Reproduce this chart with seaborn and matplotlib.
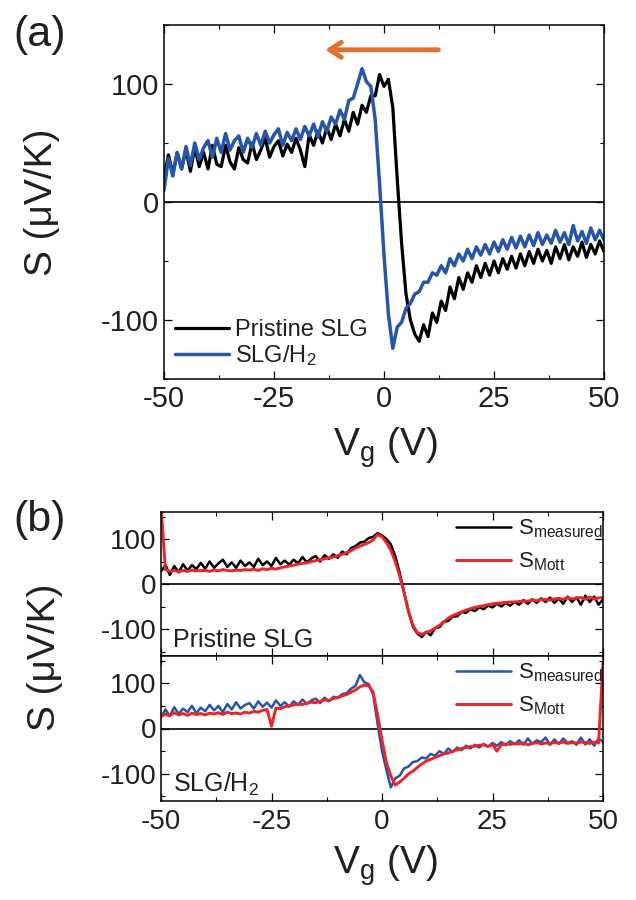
import numpy as np
import matplotlib
matplotlib.use("Agg")
import matplotlib.pyplot as plt
import seaborn as sns
from matplotlib.ticker import MultipleLocator

# gate voltage grid (V), 1 V steps
vg = np.arange(-50, 51)

# (a) thermopower, measured
s_pristine = [20, 40, 24, 42, 28, 44, 26, 46, 30, 42,
              28, 48, 32, 30, 48, 34, 28, 46, 36, 33,
              50, 36, 44, 54, 38, 47, 52, 39, 49, 42,
              54, 44, 30, 57, 48, 60, 50, 63, 53, 66,
              56, 70, 60, 76, 66, 82, 76, 90, 90, 108,
              98, 104, 80, 20, -35, -78, -100, -112, -118, -104,
              -114, -94, -102, -84, -92, -72, -82, -64, -74, -60,
              -68, -54, -64, -52, -62, -50, -60, -48, -57, -46,
              -56, -44, -54, -42, -52, -40, -50, -41, -52, -38,
              -48, -36, -49, -38, -46, -34, -47, -36, -44, -33,
              -42]
s_h2 = [10, 37, 22, 42, 28, 47, 31, 50, 36, 46,
        52, 38, 54, 42, 58, 44, 52, 56, 42, 54,
        46, 58, 48, 60, 50, 57, 62, 48, 59, 52,
        62, 53, 64, 56, 66, 55, 68, 60, 72, 66,
        78, 70, 86, 88, 100, 113, 102, 98, 70, 15,
        -45, -95, -124, -106, -102, -90, -86, -78, -76, -68,
        -68, -60, -62, -54, -60, -48, -54, -44, -50, -40,
        -48, -38, -45, -36, -44, -34, -42, -32, -40, -30,
        -39, -29, -38, -28, -37, -26, -36, -28, -35, -24,
        -34, -26, -36, -20, -33, -25, -35, -22, -32, -24,
        -32]

# (b) measured vs Mott formula
s_meas_pristine = [28, 42, 20, 40, 26, 44, 30, 42, 33, 47,
                   34, 50, 36, 46, 54, 38, 48, 36, 52, 40,
                   48, 38, 56, 42, 50, 40, 58, 44, 52, 43,
                   54, 46, 60, 48, 57, 62, 50, 64, 56, 66,
                   58, 72, 66, 80, 84, 92, 94, 102, 105, 113,
                   108, 100, 88, 62, 25, -18, -62, -95, -110, -118,
                   -106, -114, -98, -96, -84, -82, -72, -72, -62, -64,
                   -56, -60, -52, -56, -48, -52, -44, -50, -42, -48,
                   -40, -46, -36, -44, -34, -42, -32, -40, -30, -42,
                   -32, -44, -28, -40, -30, -46, -26, -40, -28, -46,
                   -34]
s_mott_pristine = [175, 32, 28, 30, 27, 30, 28, 31, 29, 30,
                   30, 28, 31, 29, 32, 30, 29, 31, 30, 32,
                   31, 33, 30, 34, 32, 35, 33, 36, 38, 40,
                   42, 44, 46, 47, 50, 52, 54, 56, 58, 60,
                   63, 66, 70, 74, 80, 84, 88, 92, 98, 110,
                   105, 92, 75, 50, 18, -20, -60, -92, -108, -112,
                   -108, -104, -98, -92, -84, -76, -70, -66, -62, -58,
                   -55, -52, -50, -48, -46, -44, -43, -42, -41, -40,
                   -40, -39, -38, -38, -36, -37, -35, -34, -36, -33,
                   -32, -34, -30, -33, -31, -30, -34, -29, -33, -31,
                   -30]
s_meas_h2 = [26, 42, 28, 47, 32, 44, 36, 50, 34, 46,
             38, 52, 40, 50, 36, 54, 42, 58, 44, 52,
             56, 44, 60, 48, 57, 46, 62, 50, 58, 48,
             60, 52, 64, 54, 62, 66, 56, 68, 60, 70,
             68, 76, 78, 88, 94, 118, 102, 98, 75, 10,
             -50, -92, -130, -110, -104, -88, -84, -74, -72, -64,
             -66, -56, -60, -50, -56, -44, -52, -42, -48, -38,
             -44, -36, -42, -34, -40, -32, -38, -30, -37, -28,
             -35, -26, -36, -22, -34, -26, -30, -20, -36, -24,
             -34, -22, -32, -28, -36, -20, -35, -24, -38, -22,
             -30]
s_mott_h2 = [26, 32, 28, 35, 30, 33, 29, 34, 31, 33,
             30, 34, 32, 35, 31, 36, 33, 34, 32, 36,
             34, 38, 36, 40, 42, 5, 45, 44, 48, 50,
             52, 54, 53, 56, 58, 57, 60, 63, 62, 66,
             68, 72, 75, 80, 85, 92, 96, 94, 80, 30,
             -25, -75, -105, -125, -118, -110, -100, -94, -86, -78,
             -72, -68, -64, -60, -56, -54, -50, -47, -44, -42,
             -40, -39, -37, -36, -40, -35, -50, -36, -34, -35,
             -33, -34, -32, -36, -33, -31, -34, -32, -33, -31,
             -32, -30, -33, -31, -32, -30, -31, -33, -30, -32,
             145]

black = "#000000"
blue = "#2756A8"
red = "#EC2327"
orange = "#E2712F"

sns.set_theme(style="ticks")
plt.rcParams["font.family"] = ["Liberation Sans", "DejaVu Sans"]
plt.rcParams.update({
    "mathtext.fontset": "custom",
    "mathtext.rm": "Liberation Sans",
    "mathtext.it": "Liberation Sans:italic",
    "mathtext.bf": "Liberation Sans:bold",
    "axes.unicode_minus": False,
    "xtick.direction": "in", "ytick.direction": "in",
    "xtick.top": True, "ytick.right": True,
    "xtick.minor.visible": True, "ytick.minor.visible": True,
    "xtick.major.size": 6, "ytick.major.size": 6,
    "xtick.minor.size": 3, "ytick.minor.size": 3,
    "xtick.major.width": 0.9, "ytick.major.width": 0.9,
    "xtick.minor.width": 0.8, "ytick.minor.width": 0.8,
    "axes.linewidth": 1.1, "axes.edgecolor": "black",
    "text.color": "#231f20",
})


def setup(ax, ylim):
    ax.set_xlim(-50, 50)
    ax.set_ylim(*ylim)
    ax.xaxis.set_major_locator(MultipleLocator(25))
    ax.xaxis.set_minor_locator(MultipleLocator(12.5))
    ax.yaxis.set_major_locator(MultipleLocator(100))
    ax.yaxis.set_minor_locator(MultipleLocator(50))
    ax.axhline(0, color="black", lw=1.2, zorder=1)
    ax.set_xlabel("")
    ax.set_ylabel("")
    ax.tick_params(which="both", color="black", labelcolor="#231f20")


fig = plt.figure(figsize=(6.36, 9), dpi=100)

# ---- panel (a)
ax_a = fig.add_axes([164/636, 1-379/900, 440/636, 354/900])
sns.lineplot(x=vg, y=s_pristine, ax=ax_a, color=black, lw=2.3, label="Pristine SLG", estimator=None)
sns.lineplot(x=vg, y=s_h2, ax=ax_a, color=blue, lw=2.5, label="SLG/H$_2$", estimator=None)
setup(ax_a, (-150, 150))
ax_a.tick_params(labelsize=21)
ax_a.tick_params(axis="x", pad=4)
ax_a.legend(loc="lower left", bbox_to_anchor=(0.025, 0.03), frameon=False, fontsize=17,
            handlelength=2.3, handletextpad=0.25, labelspacing=0.1, borderpad=0, borderaxespad=0)
ax_a.annotate("", xy=(-14, 129), xytext=(13, 129),
              arrowprops=dict(arrowstyle="->,head_length=0.7,head_width=0.45", color=orange, lw=3.5))

fig.text(13/636, 1-35/900, "(a)", fontsize=31, va="center", ha="left")
fig.text(42/636, 1-202/900, "S (\u03bcV/K)", fontsize=28, rotation=90, va="center", ha="center")
fig.text(385/636, 1-448/900, "V$_{\\rm g}$ (V)", fontsize=28, va="center", ha="center")

# ---- panel (b), top: pristine
ax_b1 = fig.add_axes([161/636, 1-656/900, 442/636, 144/900])
sns.lineplot(x=vg, y=s_meas_pristine, ax=ax_b1, color=black, lw=1.8,
             label="S$_{\\rm measured}$", estimator=None)
sns.lineplot(x=vg, y=s_mott_pristine, ax=ax_b1, color=red, lw=2.1,
             label="S$_{\\rm Mott}$", estimator=None)
setup(ax_b1, (-160, 160))
ax_b1.tick_params(axis="x", labelbottom=False)
ax_b1.tick_params(axis="y", labelsize=20)
ax_b1.text(0.027, 0.06, "Pristine SLG", transform=ax_b1.transAxes, fontsize=18, va="baseline")

# ---- panel (b), bottom: hydrogenated
ax_b2 = fig.add_axes([161/636, 1-801/900, 442/636, 145/900])
sns.lineplot(x=vg, y=s_meas_h2, ax=ax_b2, color=blue, lw=1.8,
             label="S$_{\\rm measured}$", estimator=None)
sns.lineplot(x=vg, y=s_mott_h2, ax=ax_b2, color=red, lw=2.1,
             label="S$_{\\rm Mott}$", estimator=None)
setup(ax_b2, (-160, 160))
ax_b2.tick_params(axis="y", labelsize=20)
ax_b2.tick_params(axis="x", labelsize=20, pad=6)
ax_b2.text(0.027, 0.062, "SLG/H$_2$", transform=ax_b2.transAxes, fontsize=18, va="baseline")

for ax in (ax_b1, ax_b2):
    ax.legend(loc="upper right", bbox_to_anchor=(1.005, 0.975), frameon=False, fontsize=16,
              handlelength=2.5, handletextpad=0.3, labelspacing=0.45, borderpad=0.1, borderaxespad=0)

fig.text(13/636, 1-520/900, "(b)", fontsize=31, va="center", ha="left")
fig.text(45/636, 1-657/900, "S (\u03bcV/K)", fontsize=28, rotation=90, va="center", ha="center")
fig.text(385/636, 1-866/900, "V$_{\\rm g}$ (V)", fontsize=28, va="center", ha="center")

fig.savefig("out.png", dpi=100)
